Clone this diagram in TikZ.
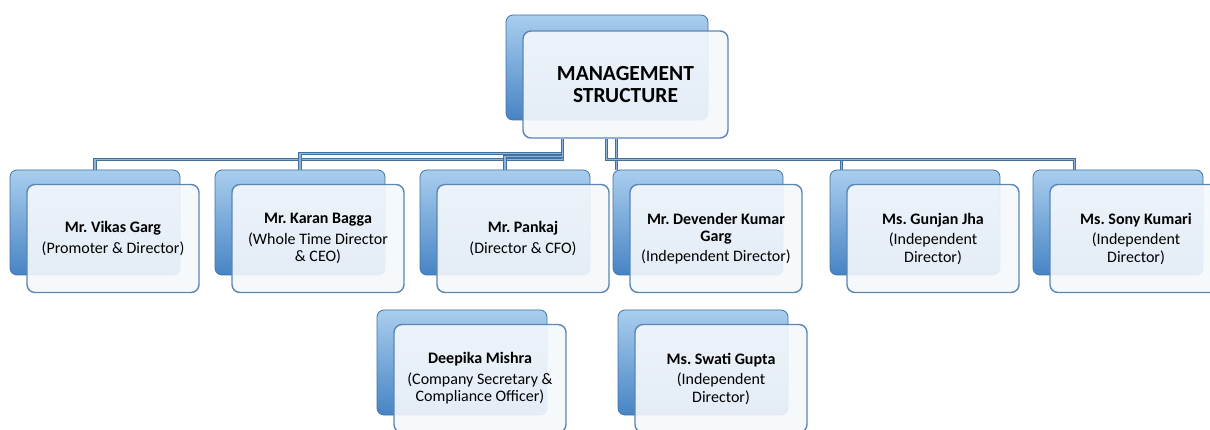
\documentclass[tikz,border=0pt]{standalone}
\usepackage{fontspec}
\setmainfont{Carlito}
\usetikzlibrary{positioning,calc}
\definecolor{boxedge}{HTML}{3F73A8}
\definecolor{backtop}{HTML}{A9CEEE}
\definecolor{backmid}{HTML}{6AA4DA}
\definecolor{backbot}{HTML}{4784C4}
\definecolor{frontedge}{HTML}{5A86B3}
\definecolor{frontfill}{HTML}{F5F8FC}
\definecolor{linedark}{HTML}{41719C}
\definecolor{linelight}{HTML}{8DB4DB}
\frenchspacing

\begin{document}
\begin{tikzpicture}[x=1pt,y=-1pt]
	\tikzstyle{backbox}=[rounded corners=7pt,draw=boxedge,line width=0.8pt,top color=backtop,middle color=backmid,bottom color=backbot,minimum width=170pt,minimum height=105pt,inner sep=0pt]
	\tikzstyle{frontbox}=[rounded corners=8pt,draw=frontedge,line width=1.4pt,fill=frontfill,fill opacity=0.9,text opacity=1,minimum width=172pt,minimum height=108pt,inner sep=2pt,align=center,font=\fontsize{16}{17.5}\selectfont]
	\tikzstyle{conn}=[draw=linedark,double=linelight,line width=1pt,double distance=1.2pt]
	\useasboundingbox (0,0) rectangle (1210,430);

	% top box
	\node[backbox,minimum width=202pt] (topb) at (607,67.5) {};
	\node[frontbox,minimum width=205pt,minimum height=107pt,font=\fontsize{21.5}{22}\selectfont\bfseries] (top) at (625.5,84.5) {MANAGEMENT\\STRUCTURE};

	% people
	\foreach \name/\x/\y/\txt in {
		vikas/95/222.5/{\textbf{Mr. Vikas Garg}\\[4pt](Promoter \& Director)},
		karan/300/222.5/{\textbf{Mr. Karan Bagga}\\[3pt](Whole Time Director\\\& CEO)},
		pankaj/505/222.5/{\textbf{Mr. Pankaj}\\[4pt](Director \& CFO)},
		devender/698/222.5/{\textbf{Mr. Devender Kumar}\\\textbf{Garg}\\[2pt](Independent Director)},
		gunjan/915/222.5/{\textbf{Ms. Gunjan Jha}\\[3pt](Independent\\Director)},
		sony/1118/222.5/{\textbf{Ms. Sony Kumari}\\[3pt](Independent\\Director)},
		deepika/462/362.5/{\textbf{Deepika Mishra}\\[3pt](Company Secretary \&\\Compliance Officer)},
		swati/703/362.5/{\textbf{Ms. Swati Gupta}\\[3pt](Independent\\Director)}}
	{
		\node[backbox] (\name-b) at (\x,\y) {};
		\node[frontbox] (\name) at ($(\name-b)+(18,16)$) {\txt};
	}

	% connectors
	\coordinate (tl) at ($(top.south west)+(40,0)$);
	\coordinate (tm) at ($(top.south west)+(84,0)$);
	\coordinate (tr) at ($(top.south west)+(94,0)$);
	\draw[conn] (tl) -- ++(0,21) -| (vikas-b.north);
	\draw[conn] (tl) -- ++(0,15) -| (karan-b.north);
	\draw[conn] (tl) -- ++(0,18) -| (pankaj-b.north);
	\draw[conn] (tr) -- (tr |- devender-b.north);
	\draw[conn] (tm) -- ++(0,21) -| ($(gunjan-b.north west)+(12,0)$);
	\draw[conn] (tm) -- ++(0,21) -| ($(sony-b.north west)+(42,0)$);
\end{tikzpicture}
\end{document}
